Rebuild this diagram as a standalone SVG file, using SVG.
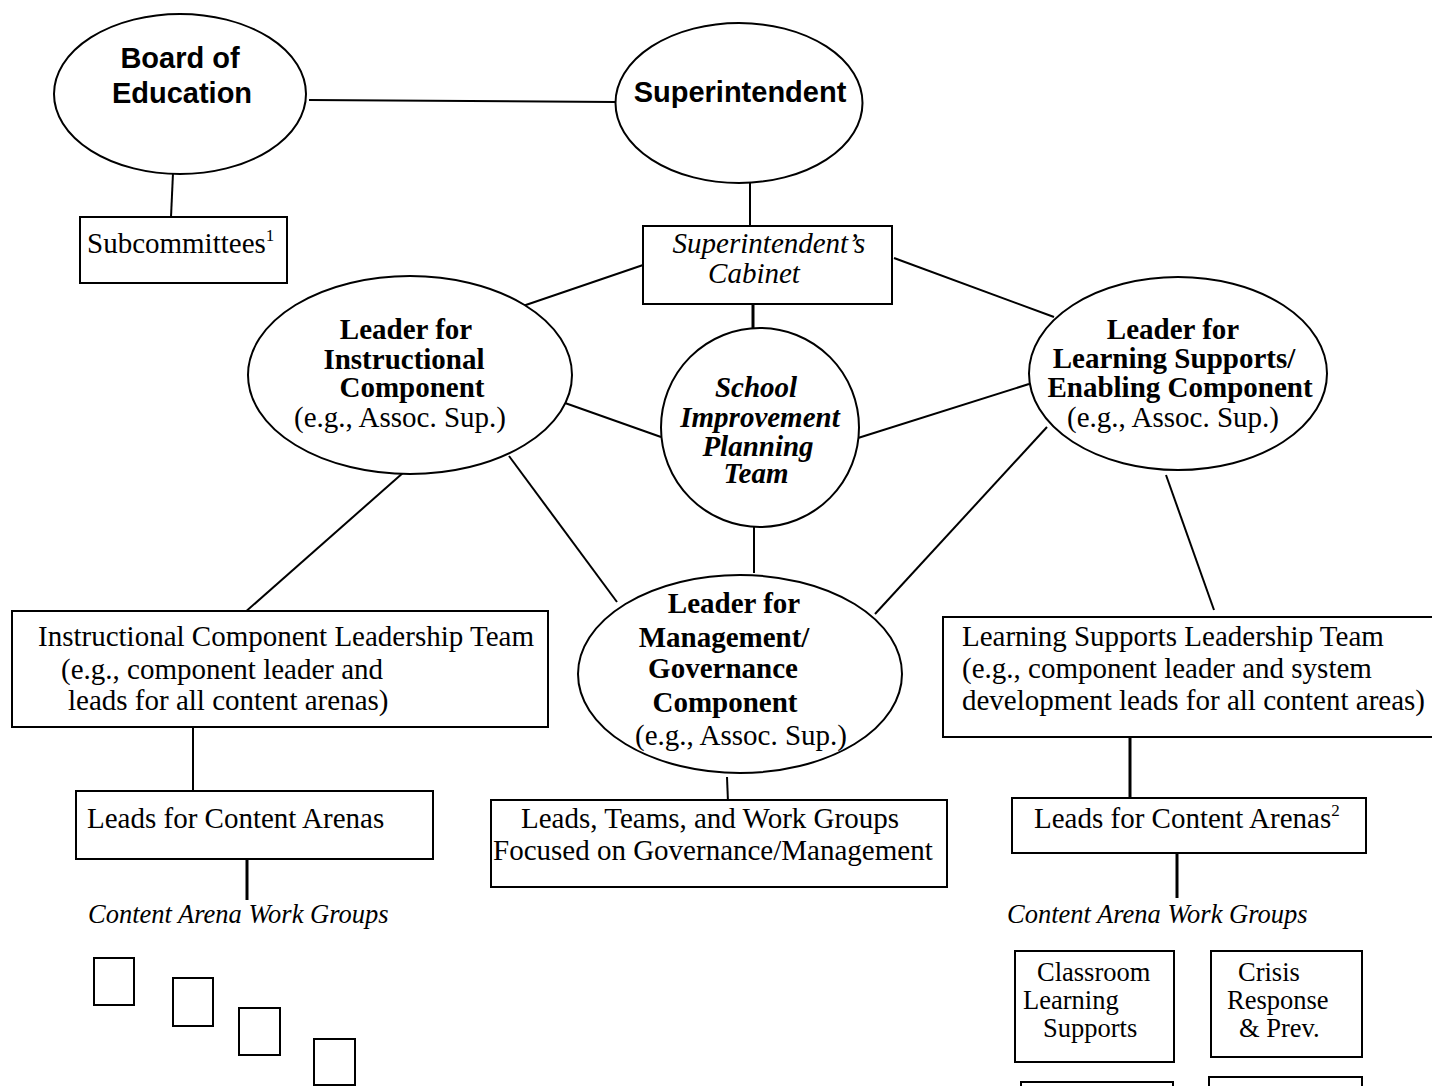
<svg xmlns="http://www.w3.org/2000/svg" width="1432" height="1086" viewBox="0 0 1432 1086">
  <style>
    .shape { fill: #ffffff; stroke: #000000; stroke-width: 2; }
    .link { stroke: #000000; stroke-width: 2; fill: none; }
    .heavy { stroke-width: 3; }
    .sans { font-family: "Liberation Sans", Arial, sans-serif; font-weight: bold; font-size: 29px; fill: #000; }
    .serif { font-family: "Liberation Serif", "Times New Roman", serif; font-size: 29px; fill: #000; }
    .bold { font-weight: bold; }
    .ital { font-style: italic; }
    .small { font-size: 26.5px; }
    .sup { font-size: 17px; }
    .mid { text-anchor: middle; }
  </style>

  <rect width="1432" height="1086" fill="#ffffff"/>

  <!-- connectors -->
  <g id="connectors">
    <line class="link" x1="309" y1="100" x2="615" y2="102"/>
    <line class="link" x1="173" y1="173" x2="171" y2="217"/>
    <line class="link" x1="750" y1="183" x2="750" y2="227"/>
    <line class="link" x1="646" y1="264" x2="517" y2="308"/>
    <line class="link" x1="894" y1="258" x2="1054" y2="317"/>
    <line class="link heavy" x1="753" y1="304" x2="753" y2="328"/>
    <line class="link" x1="565" y1="403" x2="661" y2="437"/>
    <line class="link" x1="858" y1="438" x2="1029" y2="384"/>
    <line class="link" x1="754" y1="527" x2="754" y2="573"/>
    <line class="link" x1="509" y1="456" x2="617" y2="602"/>
    <line class="link" x1="1047" y1="427" x2="875" y2="614"/>
    <line class="link" x1="404" y1="472" x2="243" y2="614"/>
    <line class="link" x1="1166" y1="475" x2="1214" y2="610"/>
    <line class="link" x1="193" y1="727" x2="193" y2="791"/>
    <line class="link heavy" x1="247" y1="859" x2="247" y2="900"/>
    <line class="link" x1="727" y1="777" x2="728" y2="802"/>
    <line class="link heavy" x1="1130" y1="737" x2="1130" y2="798"/>
    <line class="link heavy" x1="1177" y1="853" x2="1177" y2="898"/>
  </g>

  <!-- Board of Education -->
  <g id="board">
    <ellipse class="shape" cx="180" cy="94" rx="126" ry="80"/>
    <text class="sans mid" x="180" y="68">Board of</text>
    <text class="sans mid" x="182" y="103">Education</text>
  </g>

  <!-- Superintendent -->
  <g id="superintendent">
    <ellipse class="shape" cx="739" cy="103" rx="123.5" ry="80"/>
    <text class="sans mid" x="740" y="102">Superintendent</text>
  </g>

  <!-- Subcommittees -->
  <g id="subcommittees">
    <rect class="shape" x="80" y="217" width="207" height="66"/>
    <text class="serif" x="87" y="253">Subcommittees<tspan class="sup" dy="-12">1</tspan></text>
  </g>

  <!-- Superintendent's Cabinet -->
  <g id="cabinet">
    <rect class="shape" x="643" y="226" width="249" height="78"/>
    <text class="serif ital mid" x="769" y="253">Superintendent’s</text>
    <text class="serif ital mid" x="754" y="283">Cabinet</text>
  </g>

  <!-- Leader for Instructional Component -->
  <g id="leader-instructional">
    <ellipse class="shape" cx="410" cy="375" rx="162" ry="99"/>
    <text class="serif bold mid" x="406" y="339">Leader for</text>
    <text class="serif bold mid" x="404" y="369">Instructional</text>
    <text class="serif bold mid" x="412" y="397">Component</text>
    <text class="serif mid" x="400" y="427">(e.g., Assoc. Sup.)</text>
  </g>

  <!-- School Improvement Planning Team -->
  <g id="school-team">
    <ellipse class="shape" cx="760" cy="427.5" rx="99" ry="99.5"/>
    <text class="serif bold ital mid" x="756" y="397">School</text>
    <text class="serif bold ital mid" x="760" y="427">Improvement</text>
    <text class="serif bold ital mid" x="758" y="456">Planning</text>
    <text class="serif bold ital mid" x="756" y="483">Team</text>
  </g>

  <!-- Leader for Learning Supports / Enabling Component -->
  <g id="leader-learning">
    <ellipse class="shape" cx="1178" cy="373.5" rx="149" ry="96.5"/>
    <text class="serif bold mid" x="1173" y="339">Leader for</text>
    <text class="serif bold mid" x="1174" y="368">Learning Supports/</text>
    <text class="serif bold mid" x="1180" y="397">Enabling Component</text>
    <text class="serif mid" x="1173" y="427">(e.g., Assoc. Sup.)</text>
  </g>

  <!-- Leader for Management / Governance Component -->
  <g id="leader-management">
    <ellipse class="shape" cx="740" cy="674" rx="162" ry="99"/>
    <text class="serif bold mid" x="734" y="613">Leader for</text>
    <text class="serif bold mid" x="724" y="647">Management/</text>
    <text class="serif bold mid" x="723" y="678">Governance</text>
    <text class="serif bold mid" x="725" y="712">Component</text>
    <text class="serif mid" x="741" y="745">(e.g., Assoc. Sup.)</text>
  </g>

  <!-- Instructional Component Leadership Team -->
  <g id="instructional-team">
    <rect class="shape" x="12" y="611" width="536" height="116"/>
    <text class="serif" x="38" y="646">Instructional Component Leadership Team</text>
    <text class="serif" x="61" y="679">(e.g., component leader and</text>
    <text class="serif" x="68" y="710">leads for all content arenas)</text>
  </g>

  <!-- Learning Supports Leadership Team -->
  <g id="learning-team">
    <rect class="shape" x="943" y="617" width="500" height="120"/>
    <text class="serif" x="962" y="646">Learning Supports Leadership Team</text>
    <text class="serif" x="962" y="678">(e.g., component leader and system</text>
    <text class="serif" x="962" y="710">development leads for all content areas)</text>
  </g>

  <!-- Leads for Content Arenas (instructional) -->
  <g id="leads-instructional">
    <rect class="shape" x="76" y="791" width="357" height="68"/>
    <text class="serif" x="87" y="828">Leads for Content Arenas</text>
  </g>

  <!-- Leads, Teams, and Work Groups -->
  <g id="leads-management">
    <rect class="shape" x="491" y="800" width="456" height="87"/>
    <text class="serif" x="521" y="828">Leads, Teams, and Work Groups</text>
    <text class="serif" x="493" y="860">Focused on Governance/Management</text>
  </g>

  <!-- Leads for Content Arenas (learning supports) -->
  <g id="leads-learning">
    <rect class="shape" x="1012" y="798" width="354" height="55"/>
    <text class="serif" x="1034" y="828">Leads for Content Arenas<tspan class="sup" dy="-12">2</tspan></text>
  </g>

  <!-- Content arena work groups (instructional) -->
  <g id="workgroups-instructional">
    <text class="serif ital small" x="88" y="923">Content Arena Work Groups</text>
    <rect class="shape" x="94" y="958" width="40" height="47"/>
    <rect class="shape" x="173" y="978" width="40" height="48"/>
    <rect class="shape" x="239" y="1008" width="41" height="47"/>
    <rect class="shape" x="314" y="1039" width="41" height="46"/>
  </g>

  <!-- Content arena work groups (learning supports) -->
  <g id="workgroups-learning">
    <text class="serif ital small" x="1007" y="923">Content Arena Work Groups</text>
    <g id="wg-classroom">
      <rect class="shape" x="1015" y="951" width="159" height="111"/>
      <text class="serif small" x="1037" y="981">Classroom</text>
      <text class="serif small" x="1023" y="1009">Learning</text>
      <text class="serif small" x="1043" y="1037">Supports</text>
    </g>
    <g id="wg-crisis">
      <rect class="shape" x="1211" y="951" width="151" height="106"/>
      <text class="serif small" x="1238" y="981">Crisis</text>
      <text class="serif small" x="1227" y="1009">Response</text>
      <text class="serif small" x="1239" y="1037">&amp; Prev.</text>
    </g>
    <rect class="shape" x="1021" y="1082" width="152" height="40"/>
    <rect class="shape" x="1209" y="1077" width="153" height="40"/>
  </g>
</svg>
